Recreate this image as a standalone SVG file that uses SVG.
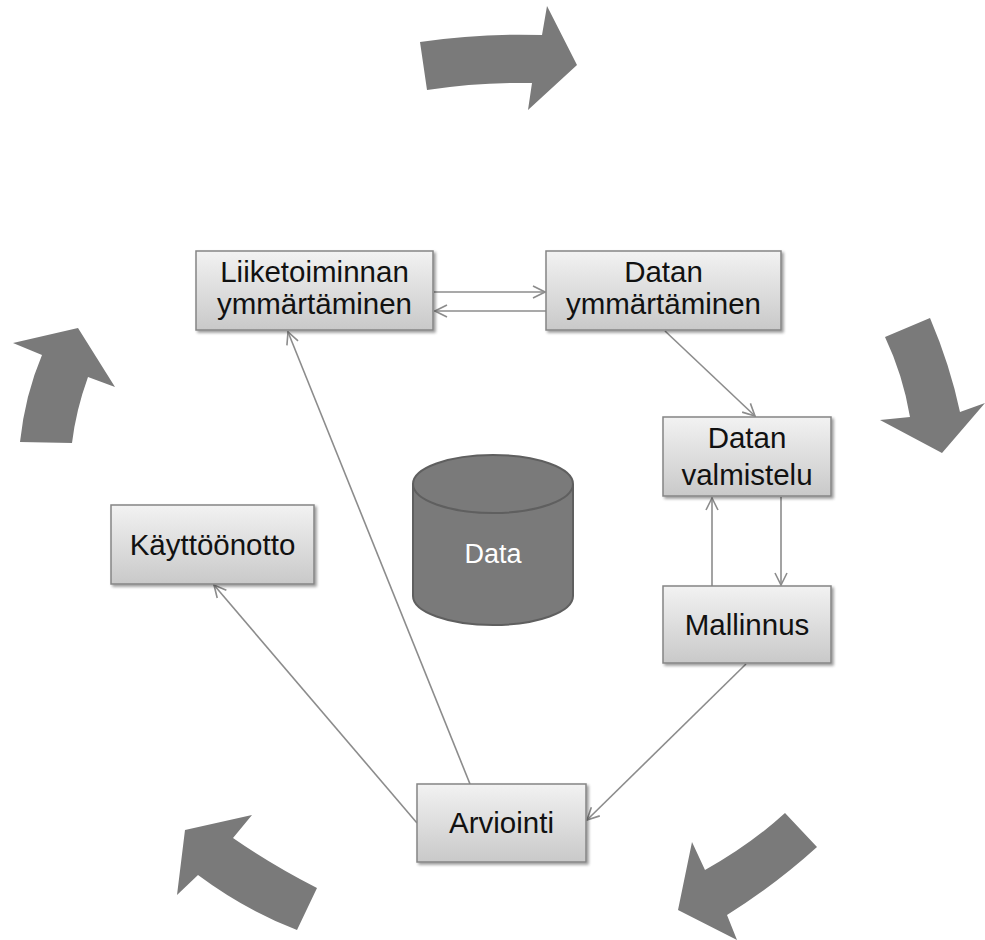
<svg xmlns="http://www.w3.org/2000/svg" width="985" height="940" viewBox="0 0 985 940">
<defs>
<linearGradient id="g" x1="0" y1="0" x2="0" y2="1">
<stop offset="0" stop-color="#f2f2f2"/>
<stop offset="1" stop-color="#c9c9c9"/>
</linearGradient>
<filter id="sh" x="-10%" y="-10%" width="130%" height="130%">
<feGaussianBlur in="SourceAlpha" stdDeviation="1.5"/>
<feOffset dx="2" dy="2" result="b"/>
<feComponentTransfer><feFuncA type="linear" slope="0.4"/></feComponentTransfer>
<feMerge><feMergeNode/><feMergeNode in="SourceGraphic"/></feMerge>
</filter>
<marker id="ah" viewBox="0 0 14 14" refX="13" refY="7" markerWidth="14" markerHeight="14" markerUnits="userSpaceOnUse" orient="auto">
<path d="M1,1 L13,7 L1,13" fill="none" stroke="#8c8c8c" stroke-width="1.6"/>
</marker>
</defs>
<style>
.box{fill:url(#g);stroke:#858585;stroke-width:1.5;filter:url(#sh)}
.t{font-family:"Liberation Sans",Arial,sans-serif;font-size:29.5px;fill:#111;text-anchor:middle}
.c{fill:none;stroke:#8c8c8c;stroke-width:1.6;marker-end:url(#ah)}
.big{fill:#7a7a7a}
</style>
<rect width="985" height="940" fill="#fff"/>
<g id="cycle-arrows">
<path class="big" d="M420,42 Q480,33 542,35 L547,6 L577,65 L528,110 L532,83 Q480,82 427,90 Z"/>
<path class="big" d="M885,337 L930,318 Q950,365 960,412 L985,403 L942,453 L880,420 L910,417 Q903,375 885,337 Z"/>
<path class="big" d="M785,813 L817,847 Q775,885 727,915 L737,940 L678,910 L692,842 L705,870 Q750,845 785,813 Z"/>
<path class="big" d="M252,815 L185,830 L177,895 L198,875 Q245,910 297,930 L317,888 Q272,865 233,838 Z"/>
<path class="big" d="M20,442 Q25,395 42,355 L13,343 L78,328 L115,387 L88,377 Q76,410 72,443 Z"/>
</g>
<g id="connectors">
<line class="c" x1="434" y1="292" x2="545" y2="292"/>
<line class="c" x1="546" y1="311" x2="435" y2="311"/>
<line class="c" x1="665" y1="331" x2="755" y2="416"/>
<line class="c" x1="781" y1="497" x2="781" y2="585"/>
<line class="c" x1="712" y1="586" x2="712" y2="498"/>
<line class="c" x1="746" y1="664" x2="587" y2="820"/>
<line class="c" x1="470" y1="784" x2="288" y2="332"/>
<line class="c" x1="417" y1="823" x2="214" y2="585"/>
</g>
<g id="liiketoiminnan">
<rect class="box" x="196" y="251" width="237" height="79"/>
<text class="t" x="314.5" y="282">Liiketoiminnan</text>
<text class="t" x="314.5" y="314">ymmärtäminen</text>
</g>
<g id="datan-ymmartaminen">
<rect class="box" x="546" y="251" width="235" height="79"/>
<text class="t" x="663.5" y="282">Datan</text>
<text class="t" x="663.5" y="314">ymmärtäminen</text>
</g>
<g id="datan-valmistelu">
<rect class="box" x="663" y="417" width="168" height="79"/>
<text class="t" x="747" y="448">Datan</text>
<text class="t" x="747" y="485">valmistelu</text>
</g>
<g id="mallinnus">
<rect class="box" x="663" y="586" width="168" height="77"/>
<text class="t" x="747" y="635">Mallinnus</text>
</g>
<g id="kayttoonotto">
<rect class="box" x="111" y="505" width="203" height="79"/>
<text class="t" x="212.5" y="555">Käyttöönotto</text>
</g>
<g id="arviointi">
<rect class="box" x="417" y="784" width="169" height="78"/>
<text class="t" x="501.5" y="833">Arviointi</text>
</g>
<g id="data">
<path d="M413,484 L413,596 A80,29 0 0 0 573,596 L573,484 A80,29 0 0 0 413,484 Z" fill="#7a7a7a" stroke="#5f5f5f" stroke-width="2"/>
<path d="M413,484 A80,29 0 0 0 573,484" fill="none" stroke="#5f5f5f" stroke-width="2"/>
<text x="493" y="563" font-family="Liberation Sans,Arial,sans-serif" font-size="27" fill="#fff" text-anchor="middle">Data</text>
</g>
</svg>
